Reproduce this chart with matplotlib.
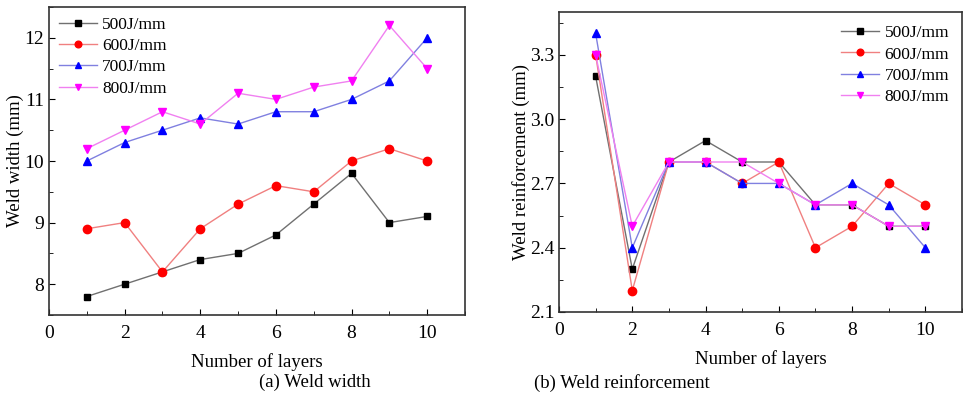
import matplotlib.pyplot as plt
from matplotlib.ticker import MultipleLocator

plt.rcParams["font.family"] = ["Liberation Serif", "DejaVu Serif"]
plt.rcParams["font.size"] = 14

layers = [1, 2, 3, 4, 5, 6, 7, 8, 9, 10]
labels = ["500J/mm", "600J/mm", "700J/mm", "800J/mm"]

# (a) weld width, mm
width_500 = [7.8, 8.0, 8.2, 8.4, 8.5, 8.8, 9.3, 9.8, 9.0, 9.1]
width_600 = [8.9, 9.0, 8.2, 8.9, 9.3, 9.6, 9.5, 10.0, 10.2, 10.0]
width_700 = [10.0, 10.3, 10.5, 10.7, 10.6, 10.8, 10.8, 11.0, 11.3, 12.0]
width_800 = [10.2, 10.5, 10.8, 10.6, 11.1, 11.0, 11.2, 11.3, 12.2, 11.5]

# (b) weld reinforcement, mm
reinf_500 = [3.2, 2.3, 2.8, 2.9, 2.8, 2.8, 2.6, 2.6, 2.5, 2.5]
reinf_600 = [3.3, 2.2, 2.8, 2.8, 2.7, 2.8, 2.4, 2.5, 2.7, 2.6]
reinf_700 = [3.4, 2.4, 2.8, 2.8, 2.7, 2.7, 2.6, 2.7, 2.6, 2.4]
reinf_800 = [3.3, 2.5, 2.8, 2.8, 2.8, 2.7, 2.6, 2.6, 2.5, 2.5]

# line colour, marker colour, marker shape, marker size
styles = [
    ("#707070", "black", "s", 5),
    ("#f08080", "red", "o", 6),
    ("#8080e0", "blue", "^", 6),
    ("#f080f0", "magenta", "v", 6),
]

fig = plt.figure(figsize=(9.69, 3.94), dpi=100)
ax1 = fig.add_axes([49 / 969, 1 - 315 / 394, 416 / 969, 308 / 394])
ax2 = fig.add_axes([559 / 969, 1 - 312 / 394, 403 / 969, 300 / 394])


def draw(ax, series, ylabel):
    for ys, lab, (lc, mc, m, ms) in zip(series, labels, styles):
        ax.plot(layers, ys, color=lc, lw=1, marker=m, ms=ms,
                mfc=mc, mec=mc, label=lab)
    ax.set_xlim(0, 11)
    ax.xaxis.set_major_locator(MultipleLocator(2))
    ax.xaxis.set_minor_locator(MultipleLocator(1))
    ax.tick_params(which="both", direction="in", top=False, right=False)
    ax.tick_params(which="major", length=4, labelsize=14)
    ax.tick_params(axis="x", pad=7)
    ax.tick_params(which="minor", length=3)
    ax.set_xlabel("Number of layers", fontsize=13.5, labelpad=8)
    ax.set_ylabel(ylabel, fontsize=13.5, labelpad=0)
    for s in ax.spines.values():
        s.set_linewidth(1.2)
        s.set_color("#333333")


legend_kw = dict(frameon=False, fontsize=12.5, handlelength=2.2,
                 handletextpad=0.3, labelspacing=0.3, markerscale=0.8)

draw(ax1, [width_500, width_600, width_700, width_800], "Weld width (mm)")
ax1.set_ylim(7.5, 12.5)
ax1.yaxis.set_major_locator(MultipleLocator(1))
ax1.yaxis.set_minor_locator(MultipleLocator(0.5))
ax1.legend(loc="upper left", borderaxespad=0.15, **legend_kw)

draw(ax2, [reinf_500, reinf_600, reinf_700, reinf_800], "Weld reinforcement (mm)")
ax2.set_ylim(2.1, 3.5)
ax2.yaxis.set_major_locator(MultipleLocator(0.3))
ax2.yaxis.set_minor_locator(MultipleLocator(0.15))
ax2.yaxis.set_major_formatter(plt.FormatStrFormatter("%.1f"))
ax2.legend(loc="upper right", borderaxespad=0.35, **legend_kw)

fig.text(315 / 969, 1 - 382 / 394, "(a) Weld width", ha="center", va="center", fontsize=13.5)
fig.text(622 / 969, 1 - 383 / 394, "(b) Weld reinforcement", ha="center", va="center", fontsize=13.5)

fig.savefig("out.png", dpi=100)
